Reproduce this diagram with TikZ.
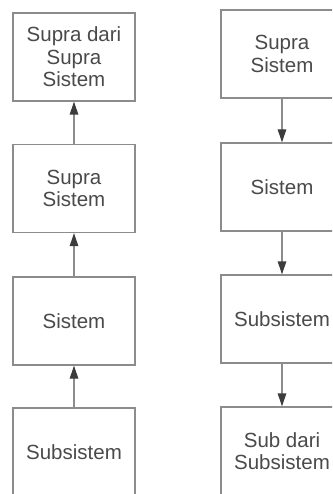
\documentclass[tikz,border=0pt]{standalone}
\usepackage{fontspec}
\setmainfont{Liberation Sans}
\usetikzlibrary{arrows.meta}
\definecolor{boxline}{HTML}{8C8C8C}
\definecolor{tipcol}{HTML}{3C3C3C}
\definecolor{txtcol}{HTML}{4A4A4A}
\begin{document}
\begin{tikzpicture}[x=1pt,y=-1pt,
  level/.style={draw=boxline, line width=1.3pt, fill=white, rectangle,
    minimum width=122pt, minimum height=88pt, inner sep=0pt,
    align=center, text=txtcol, font=\fontsize{20.5}{22.5}\selectfont},
  link/.style={draw=boxline, line width=1.3pt,
    -{Triangle[length=13pt,width=8.5pt,color=tipcol]}}]
  \useasboundingbox (0,0) rectangle (332,494);
  \clip (0,0) rectangle (332,494);
  \fill[white] (0,0) rectangle (332,494);

  % upward hierarchy
  \node[level] (l1) at (74,57)    {Supra dari\\Supra\\Sistem};
  \node[level] (l2) at (74,188.5) {Supra\\Sistem};
  \node[level] (l3) at (74,321)   {Sistem};
  \node[level] (l4) at (74,452)   {Subsistem};
  \draw[link] (l2) -- (l1);
  \draw[link] (l3) -- (l2);
  \draw[link] (l4) -- (l3);

  % downward hierarchy
  \node[level] (r1) at (282,54)  {Supra\\Sistem};
  \node[level] (r2) at (282,187) {Sistem};
  \node[level] (r3) at (282,319) {Subsistem};
  \node[level] (r4) at (282,451) {Sub dari\\Subsistem};
  \draw[link] (r1) -- (r2);
  \draw[link] (r2) -- (r3);
  \draw[link] (r3) -- (r4);
\end{tikzpicture}
\end{document}
